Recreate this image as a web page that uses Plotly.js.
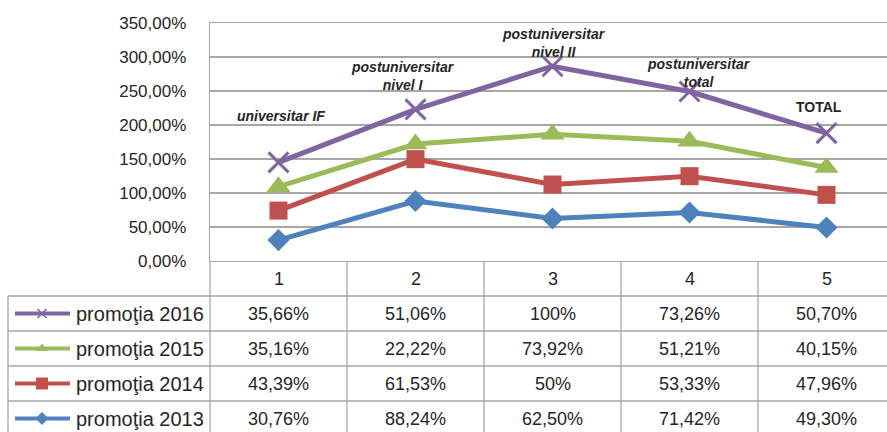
<!DOCTYPE html>
<html>
<head>
<meta charset="utf-8">
<script src="https://cdn.plot.ly/plotly-3.0.1.min.js"></script>
<style>html,body{margin:0;padding:0;background:#fff;}#chart{width:887px;height:432px;}</style>
</head>
<body>
<div id="chart"></div>
<script>
// ---- data ----
const categories = ['1', '2', '3', '4', '5'];
const pointLabels = ['<b><i>universitar IF</i></b>', '<b><i>postuniversitar<br>nivel I</i></b>', '<b><i>postuniversitar<br>nivel II</i></b>', '<b><i>postuniversitar<br>total</i></b>', '<b>TOTAL</b>'];
const names = ['promoţia 2013', 'promoţia 2014', 'promoţia 2015', 'promoţia 2016'];
const p2013 = [30.76, 88.24, 62.50, 71.42, 49.30];
const p2014 = [43.39, 61.53, 50, 53.33, 47.96];
const p2015 = [35.16, 22.22, 73.92, 51.21, 40.15];
const p2016 = [35.66, 51.06, 100, 73.26, 50.70];
const yTicks = [0, 50, 100, 150, 200, 250, 300, 350];
const yTickText = ['0,00%', '50,00%', '100,00%', '150,00%', '200,00%', '250,00%', '300,00%', '350,00%'];

// ---- styles ----
const series = [p2013, p2014, p2015, p2016];
const colors = ['#4F81BD', '#C0504D', '#9BBB59', '#8064A2'];
const symbols = ['diamond', 'square', 'triangle-up', 'x-thin'];
const msize = [17, 18, 21, 20];
const legSize = [10, 12, 10, 9];
const W = 887, H = 432;
const L = 210, T = 23, B = 261;   // plot area pixels
const colW = 137;
const rowH = 35;
const gridC = '#A6A6A6';
const FONT = 'Liberation Sans, Arial, sans-serif';
const txtC = '#262626';
const py = Y => (H - Y) / H;

const xs = categories.map((c, i) => i + 1);
const traces = [];
series.forEach((s, k) => {
  traces.push({
    x: xs, y: s, type: 'scatter', mode: 'lines+markers', stackgroup: 'one', fill: 'none',
    name: names[k], showlegend: false, hoverinfo: 'skip',
    line: {color: colors[k], width: 5},
    marker: {symbol: symbols[k], size: msize[k], color: colors[k],
             line: {color: colors[k], width: symbols[k] === 'x-thin' ? 3 : 0}},
    xaxis: 'x', yaxis: 'y'
  });
});
// legend samples in the table's first column
series.forEach((s, k) => {
  traces.push({x: [15, 70], y: [k, k], type: 'scatter', mode: 'lines', showlegend: false, hoverinfo: 'skip',
    line: {color: colors[k], width: 4}, xaxis: 'x2', yaxis: 'y2'});
  traces.push({x: [42], y: [k], type: 'scatter', mode: 'markers', showlegend: false, hoverinfo: 'skip',
    marker: {symbol: symbols[k], size: legSize[k], color: colors[k],
             line: {color: colors[k], width: symbols[k] === 'x-thin' ? 1.5 : 0}},
    xaxis: 'x2', yaxis: 'y2'});
});

// totals for data labels
const totals = xs.map((x, i) => series.reduce((a, s) => a + s[i], 0));
const lblShiftY = [46, 33, 23, 19, 26];
const lblShiftX = [2, -13, 1, 9, -8];

const fmt = v => (Number.isInteger(v) ? String(v) : v.toFixed(2).replace('.', ',')) + '%';

const annotations = [];
pointLabels.forEach((t, i) => {
  annotations.push({x: xs[i], y: totals[i], xref: 'x', yref: 'y', text: t, showarrow: false,
    xshift: lblShiftX[i], yshift: lblShiftY[i], yanchor: 'middle', xanchor: 'center',
    font: {family: FONT, size: 14, color: txtC}});
});
categories.forEach((c, i) => {
  annotations.push({x: xs[i], y: py(B + rowH / 2), xref: 'x', yref: 'paper', text: c, showarrow: false,
    yanchor: 'middle', font: {family: FONT, size: 18, color: txtC}});
});
series.forEach((s, k) => {
  annotations.push({x: 74 / W, y: k, xref: 'paper', yref: 'y2', text: names[k], showarrow: false,
    xanchor: 'left', font: {family: FONT, size: 20, color: txtC}});
  s.forEach((v, i) => {
    annotations.push({x: xs[i], y: k, xref: 'x', yref: 'y2', text: fmt(v), showarrow: false,
      font: {family: FONT, size: 18, color: txtC}});
  });
});

const shapes = [];
const ln = (x0, y0, x1, y1, xref, yref) => ({type: 'line', x0, y0, x1, y1, xref, yref, line: {color: gridC, width: 1.3}});
[296, 331, 366, 401].forEach(Y => shapes.push(ln(8 / W, py(Y), 1, py(Y), 'paper', 'paper')));
shapes.push(ln(8 / W, 0, 8 / W, py(296), 'paper', 'paper'));
shapes.push(ln(L / W, 0, L / W, py(B), 'paper', 'paper'));
[1.5, 2.5, 3.5, 4.5, 5.5].forEach(x => shapes.push(ln(x, 0, x, py(B), 'x', 'paper')));

const layout = {
  width: W, height: H,
  margin: {l: 0, r: 0, t: 0, b: 0},
  paper_bgcolor: '#fff', plot_bgcolor: '#fff',
  showlegend: false,
  xaxis: {domain: [L / W, 1], range: [0.5, 0.5 + (W - L) / colW], showticklabels: false, ticks: '',
    showgrid: false, zeroline: false, showline: true, mirror: true, linecolor: gridC, linewidth: 1.3,
    anchor: 'y', fixedrange: true},
  yaxis: {domain: [py(B), py(T)], range: [0, 350], tickmode: 'array', tickvals: yTicks, ticktext: yTickText,
    showgrid: true, gridcolor: gridC, gridwidth: 1.3, zeroline: false, showline: true, linecolor: gridC, linewidth: 1.3,
    ticks: 'outside', ticklen: 19, tickcolor: 'rgba(0,0,0,0)',
    tickfont: {family: FONT, size: 17, color: txtC}, anchor: 'x', fixedrange: true},
  xaxis2: {domain: [0, L / W], range: [0, L], visible: false, anchor: 'y2', fixedrange: true},
  yaxis2: {domain: [0, py(296)], range: [3.5 - (H - 296) / rowH, 3.5], visible: false, anchor: 'x2', fixedrange: true},
  annotations, shapes
};

Plotly.newPlot('chart', traces, layout, {displayModeBar: false, staticPlot: true});
</script>
</body>
</html>
